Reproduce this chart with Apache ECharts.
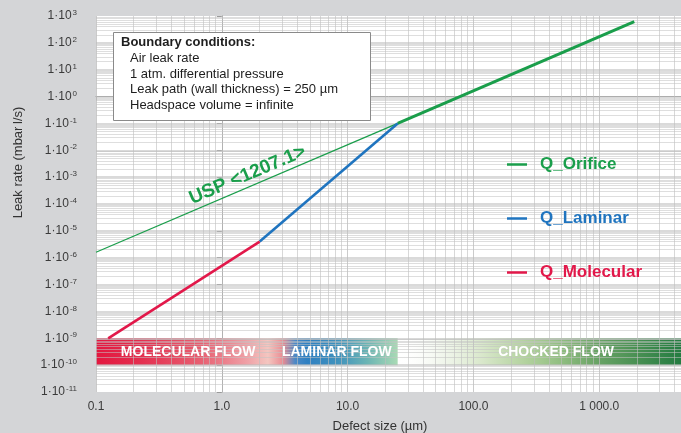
<!DOCTYPE html>
<html>
<head>
<meta charset="utf-8">
<script src="https://cdn.jsdelivr.net/npm/echarts@6/dist/echarts.min.js"></script>
<style>
  html, body { margin: 0; padding: 0; background: #d4d5d7; }
  #chart { width: 681px; height: 433px; }
</style>
</head>
<body>
<div id="chart"></div>
<script>
// ---------- data ----------
const xTickValues = [0.1, 1, 10, 100, 1000];
const xTickLabels = ['0.1', '1.0', '10.0', '100.0', '1 000.0'];
const yTickExponents = [-11, -10, -9, -8, -7, -6, -5, -4, -3, -2, -1, 0, 1, 2, 3];
const yTickSup = ['-11', '-10', '-9', '-8', '-7', '-6', '-5', '-4', '-3', '-2', '-1', '0', '1', '2', '3'];
const xMin = 0.1, xMax = 4467, yMin = 1e-11, yMax = 1e3;

const uspX = [0.1, 25];
const uspY = [1.6e-6, 0.1];
const orificeX = [25, 1900];
const orificeY = [0.1, 620];
const laminarX = [2, 25];
const laminarY = [4e-6, 0.1];
const molecularX = [0.125, 2];
const molecularY = [1e-9, 4e-6];

const regimeNames = ['MOLECULAR FLOW', 'LAMINAR FLOW', 'CHOCKED FLOW'];
const regimeLabelX = [0.54, 8.2, 454];
const regimeLabelY = 3.16e-10;
const bandLow = 1e-10, bandHigh = 1e-9;
const bandEdges = [0.1, 25, xMax];

const uspText = 'USP <1207.1>';
const uspLabelX = 1.6, uspLabelY = 1.2e-3;

const boxTitle = 'Boundary conditions:';
const boxLines = ['Air leak rate', '1 atm. differential pressure', 'Leak path (wall thickness) = 250 µm', 'Headspace volume = infinite'];

const minorMultipliers = [2, 3, 4, 5, 6, 7, 8, 9];

// ---------- helpers ----------
const L = v => Math.log10(v);
const pts = (xs, ys) => xs.map((x, i) => [L(x), L(ys[i])]);
const FONT = '"Liberation Sans", Arial, sans-serif';
const GREEN = '#1a9e4b', BLUE = '#1f74bf', RED = '#e2184a';

// grid lines (minor + major) drawn as markLines on the log10 scales
const gridLines = [];
for (let e = -1; e <= 3; e++) {
  gridLines.push({ xAxis: e, lineStyle: { color: 'rgba(185,185,185,0.75)', width: 1, type: 'solid' } });
  minorMultipliers.forEach(m => {
    const v = m * Math.pow(10, e);
    if (v < xMax) gridLines.push({ xAxis: L(v), lineStyle: { color: 'rgba(190,190,190,0.6)', width: 1, type: 'solid' } });
  });
}
for (let e = -11; e <= 2; e++) {
  if (e > -11) gridLines.push({ yAxis: e, lineStyle: { color: 'rgba(190,190,190,0.75)', width: 1.5, type: 'solid' } });
  minorMultipliers.forEach(m => {
    gridLines.push({ yAxis: L(m * Math.pow(10, e)), lineStyle: { color: 'rgba(195,195,195,0.55)', width: 1, type: 'solid' } });
  });
}

const grad = stops => ({ type: 'linear', x: 0, y: 0, x2: 1, y2: 0, global: false,
  colorStops: stops.map(s => ({ offset: s[0], color: s[1] })) });

const molLamGrad = grad([
  [0, '#e3173f'], [0.15, '#e42f4f'], [0.35, '#e86072'], [0.5, '#efa0a6'],
  [0.57, '#f4c6c0'], [0.62, '#e98b92'], [0.66, '#4c89c6'], [0.7, '#2f80c2'],
  [0.8, '#3f92bd'], [0.9, '#6cb5b4'], [1, '#a9dab4']
]);
const chokedGrad = grad([
  [0, 'rgba(255,255,255,0)'], [0.15, 'rgba(236,243,230,0.7)'], [0.3, '#d8e7ca'],
  [0.45, '#b3d29e'], [0.57, '#92bf82'], [0.7, '#6aa466'], [0.85, '#478f52'], [1, '#237c41']
]);

const chart = echarts.init(document.getElementById('chart'), null, { renderer: 'canvas' });

const option = {
  backgroundColor: '#d4d5d7',
  animation: false,
  textStyle: { fontFamily: FONT },
  grid: { left: 96, right: 0, top: 16, bottom: 41, show: true, backgroundColor: '#ffffff', borderWidth: 0,
    containLabel: false, outerBoundsMode: 'none' },
  legend: {
    orient: 'vertical', left: 502, top: 151, itemGap: 37, itemWidth: 20, itemHeight: 2.5,
    icon: 'rect', selectedMode: false, z: 20,
    textStyle: { fontSize: 17, fontWeight: 'bold', fontFamily: FONT, padding: [0, 0, 0, 8] },
    data: [
      { name: 'Q_Orifice', textStyle: { color: GREEN } },
      { name: 'Q_Laminar', textStyle: { color: BLUE } },
      { name: 'Q_Molecular', textStyle: { color: RED } }
    ]
  },
  xAxis: {
    type: 'value', min: L(xMin), max: L(xMax), interval: 1,
    name: 'Defect size (µm)', nameLocation: 'middle', nameGap: 28,
    nameTextStyle: { fontSize: 13, color: '#333', fontFamily: FONT, padding: [0, 17, 0, 0] },
    axisLine: { show: true, lineStyle: { color: '#9a9a9a', width: 1 } },
    axisTick: { show: true, length: 4, lineStyle: { color: '#9a9a9a' } },
    splitLine: { show: false },
    axisLabel: {
      margin: 9, fontSize: 12, color: '#3a3a3a', fontFamily: FONT, showMaxLabel: false,
      formatter: v => {
        const r = Math.round(v);
        if (Math.abs(v - r) > 1e-6) return '';
        const i = xTickValues.findIndex(t => Math.round(L(t)) === r);
        return i >= 0 ? xTickLabels[i] : '';
      }
    }
  },
  yAxis: {
    type: 'value', min: L(yMin), max: L(yMax), interval: 1,
    name: 'Leak rate (mbar\u2009l/s)', nameLocation: 'middle', nameGap: 71,
    nameTextStyle: { fontSize: 13, color: '#333', fontFamily: FONT, padding: [0, 0, 0, 83] },
    axisLine: { show: true, lineStyle: { color: '#9a9a9a', width: 1 } },
    axisTick: { show: true, length: 5, lineStyle: { color: '#9a9a9a' } },
    splitLine: { show: false },
    axisLabel: {
      margin: 19,
      formatter: v => {
        const r = Math.round(v);
        if (Math.abs(v - r) > 1e-6) return '';
        const i = yTickExponents.indexOf(r);
        return i >= 0 ? '{b|1·10}{s|' + yTickSup[i] + '}' : '';
      },
      rich: {
        b: { fontSize: 12, color: '#3a3a3a', fontFamily: FONT, lineHeight: 14 },
        s: { fontSize: 8, color: '#3a3a3a', fontFamily: FONT, verticalAlign: 'top', padding: [0, 0, 0, 1] }
      }
    }
  },
  series: [
    {
      name: 'bands', type: 'line', data: [], silent: true,
      markArea: {
        silent: true, z: 1,
        data: [
          [{ xAxis: L(bandEdges[0]), yAxis: L(bandLow), itemStyle: { color: molLamGrad } },
           { xAxis: L(bandEdges[1]), yAxis: L(bandHigh) }],
          [{ xAxis: L(bandEdges[1]), yAxis: L(bandLow), itemStyle: { color: chokedGrad } },
           { xAxis: L(bandEdges[2]), yAxis: L(bandHigh) }]
        ]
      }
    },
    {
      name: 'grid', type: 'line', data: [], silent: true,
      markLine: { silent: true, z: 1.5, symbol: ['none', 'none'], label: { show: false },
        lineStyle: { type: 'solid' }, data: gridLines }
    },
    {
      name: 'USP', type: 'line', data: pts(uspX, uspY), symbol: 'none', z: 3,
      lineStyle: { color: GREEN, width: 1.3 }, itemStyle: { color: GREEN }
    },
    {
      name: 'Q_Orifice', type: 'line', data: pts(orificeX, orificeY), symbol: 'none', z: 3,
      lineStyle: { color: GREEN, width: 3 }, itemStyle: { color: GREEN }
    },
    {
      name: 'Q_Laminar', type: 'line', data: pts(laminarX, laminarY), symbol: 'none', z: 3,
      lineStyle: { color: BLUE, width: 2.6 }, itemStyle: { color: BLUE }
    },
    {
      name: 'Q_Molecular', type: 'line', data: pts(molecularX, molecularY), symbol: 'none', z: 3,
      lineStyle: { color: RED, width: 2.6 }, itemStyle: { color: RED }
    }
  ]
};
chart.setOption(option);

// annotation texts positioned from data coordinates through the chart's own scales
const toPx = (x, y) => chart.convertToPixel({ gridIndex: 0 }, [L(x), L(y)]);
const graphics = [
  { type: 'rect', left: 113, top: 32, z: 10,
    shape: { width: 257, height: 88 }, style: { fill: '#ffffff', stroke: '#8a8a8a', lineWidth: 1 } },
  { type: 'text', left: 121, top: 36, z: 11,
    style: { text: boxTitle, font: 'bold 13px ' + FONT, fill: '#1e1e1e' } },
  { type: 'text', left: 130, top: 51, z: 11,
    style: { text: boxLines.join('\n'), font: '13px ' + FONT, fill: '#1e1e1e', lineHeight: 15.5 } }
];
regimeNames.forEach((n, i) => {
  const p = toPx(regimeLabelX[i], regimeLabelY);
  graphics.push({ type: 'text', x: p[0], y: p[1], z: 12,
    style: { text: n, font: 'bold 14px ' + FONT, fill: '#ffffff', align: 'center', verticalAlign: 'middle' } });
});
const up = toPx(uspLabelX, uspLabelY);
graphics.push({ type: 'text', x: up[0], y: up[1], rotation: 23 * Math.PI / 180, z: 12,
  style: { text: uspText, font: 'bold 19px ' + FONT, fill: GREEN, align: 'center', verticalAlign: 'middle' } });
chart.setOption({ graphic: graphics });
</script>
</body>
</html>
